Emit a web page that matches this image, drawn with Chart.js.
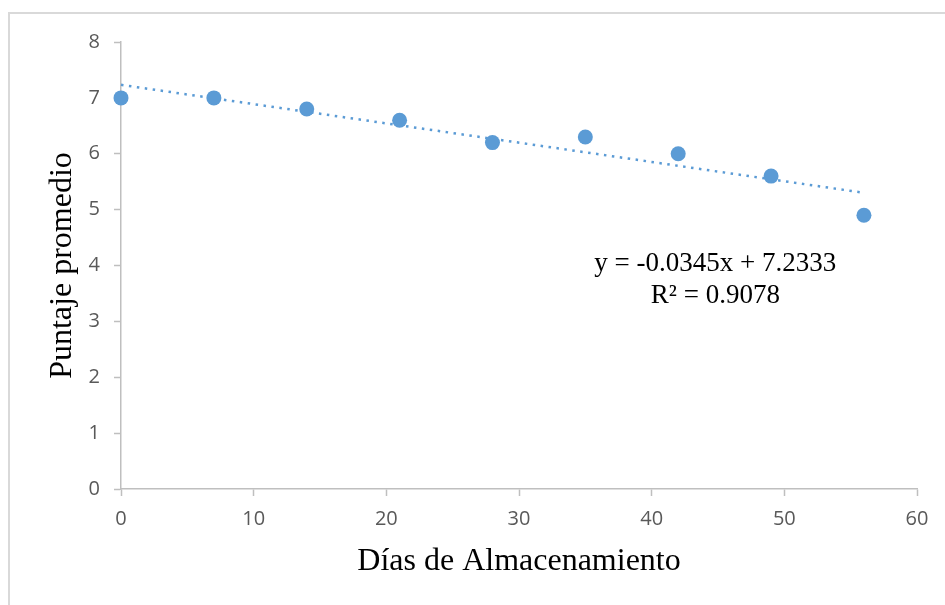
<!DOCTYPE html>
<html>
<head>
<meta charset="utf-8">
<title>Puntaje promedio vs Días de Almacenamiento</title>
<script src="https://cdn.jsdelivr.net/npm/chart.js@4.4.1/dist/chart.umd.min.js"></script>
<style>
  html, body { margin: 0; padding: 0; background: #ffffff; }
  #wrap { position: relative; width: 945px; height: 605px; }
</style>
</head>
<body>
<div id="wrap"><canvas id="c" width="945" height="605"></canvas></div>
<script>
// Storage days and mean sensory score
const dias = [0, 7, 14, 21, 28, 35, 42, 49, 56];
const puntaje = [7.0, 7.0, 6.8, 6.6, 6.2, 6.3, 6.0, 5.6, 4.9];

// Linear trend coefficients as reported on the chart
const pendiente = -0.0345;
const intercepto = 7.2333;
const r2 = 0.9078;
const ecuacion = ['y = -0.0345x + 7.2333', 'R² = 0.9078'];

const xTicks = [0, 10, 20, 30, 40, 50, 60];
const yTicks = [0, 1, 2, 3, 4, 5, 6, 7, 8];

const puntos = dias.map((d, i) => ({ x: d, y: puntaje[i] }));
const tendencia = [dias[0], dias[dias.length - 1]].map(d => ({ x: d, y: intercepto + pendiente * d }));

const azul = '#5b9bd5';
const ejeColor = '#bfbfbf';
const textoTick = '#595959';

// Outer frame and white background
const marco = {
  id: 'marco',
  beforeDraw(chart) {
    const ctx = chart.ctx;
    ctx.save();
    ctx.fillStyle = '#ffffff';
    ctx.fillRect(0, 0, chart.width, chart.height);
    ctx.strokeStyle = '#d9d9d9';
    ctx.lineWidth = 2;
    ctx.strokeRect(9, 13, chart.width + 20, chart.height + 20);
    ctx.restore();
  }
};

// Trendline equation label
const etiquetaEcuacion = {
  id: 'etiquetaEcuacion',
  afterDatasetsDraw(chart) {
    const { ctx, scales } = chart;
    const cx = scales.x.getPixelForValue(44.8);
    const cy = scales.y.getPixelForValue(4.02);
    ctx.save();
    ctx.fillStyle = '#000000';
    ctx.font = '27px "Liberation Serif", "Times New Roman", serif';
    ctx.textAlign = 'center';
    ctx.textBaseline = 'middle';
    ctx.fillText(ecuacion[0], cx, cy);
    ctx.fillText(ecuacion[1], cx, cy + 32);
    ctx.restore();
  }
};

new Chart(document.getElementById('c'), {
  type: 'scatter',
  data: {
    datasets: [
      {
        label: 'Puntaje',
        data: puntos,
        backgroundColor: azul,
        borderColor: azul,
        pointRadius: 7.5,
        pointHoverRadius: 7.5,
        pointBorderWidth: 0,
        showLine: false,
        clip: false,
        order: 0
      },
      {
        label: 'Lineal',
        data: tendencia,
        showLine: true,
        borderColor: azul,
        borderWidth: 2.5,
        borderDash: [2.5, 5.5],
        pointRadius: 0,
        fill: false,
        clip: false,
        order: 1
      }
    ]
  },
  options: {
    responsive: false,
    animation: false,
    layout: { padding: { left: 0, top: 42, right: 28, bottom: 0 } },
    plugins: {
      legend: { display: false },
      tooltip: { enabled: false }
    },
    scales: {
      x: {
        type: 'linear',
        min: 0,
        max: 60,
        afterFit(scale) { scale.height = 116; },
        afterBuildTicks(scale) { scale.ticks = xTicks.map(v => ({ value: v })); },
        border: { display: true, color: ejeColor, width: 1.5 },
        grid: { display: true, drawOnChartArea: false, drawTicks: true, tickLength: 7, tickColor: ejeColor, tickWidth: 1.5 },
        ticks: { color: textoTick, padding: 11, font: { family: '"Open Sans", sans-serif', size: 20 } },
        title: {
          display: true,
          text: 'Días de Almacenamiento',
          color: '#000000',
          font: { family: '"Liberation Serif", "Times New Roman", serif', size: 32 },
          padding: { top: 0, bottom: 24 }
        }
      },
      y: {
        type: 'linear',
        min: 0,
        max: 8,
        afterFit(scale) { scale.width = 121; },
        afterBuildTicks(scale) { scale.ticks = yTicks.map(v => ({ value: v })); },
        border: { display: true, color: ejeColor, width: 1.5 },
        grid: { display: true, drawOnChartArea: false, drawTicks: true, tickLength: 7, tickColor: ejeColor, tickWidth: 1.5 },
        ticks: { color: textoTick, padding: 14, font: { family: '"Open Sans", sans-serif', size: 20 } },
        title: {
          display: true,
          text: 'Puntaje promedio',
          color: '#000000',
          font: { family: '"Liberation Serif", "Times New Roman", serif', size: 32 },
          padding: { top: 43, bottom: 0 }
        }
      }
    }
  },
  plugins: [marco, etiquetaEcuacion]
});
</script>
</body>
</html>
